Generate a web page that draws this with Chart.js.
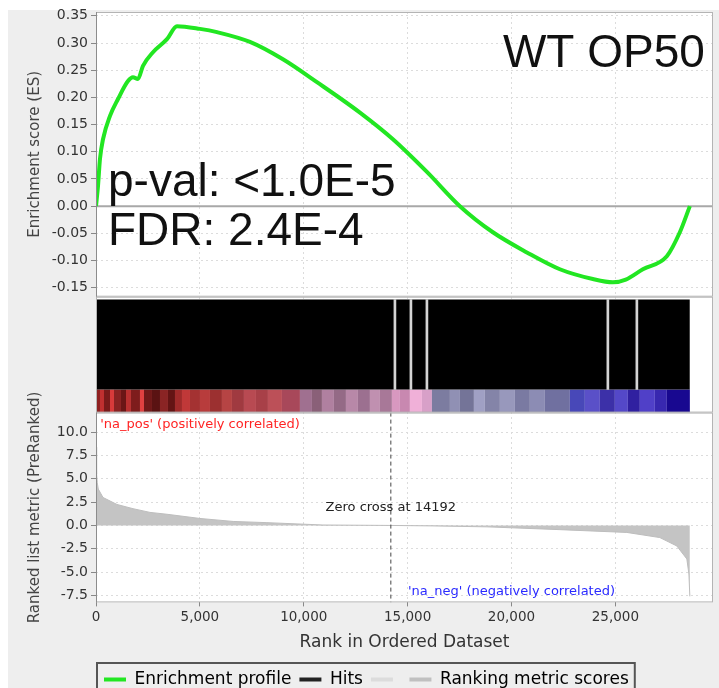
<!DOCTYPE html>
<html>
<head>
<meta charset="utf-8">
<script src="https://cdn.jsdelivr.net/npm/chart.js@4/dist/chart.umd.min.js"></script>
<style>
  html, body { margin: 0; padding: 0; background: #ffffff; overflow: hidden; }
  canvas { display: block; }
</style>
</head>
<body>
<canvas id="c" width="719" height="698"></canvas>
<script>
// ---------------- data ----------------
const panelTitle = 'WT OP50';
const pValText = 'p-val: <1.0E-5';
const fdrText = 'FDR: 2.4E-4';
const geneCount = 28586;
const zeroCrossRank = 14192;

// Running enrichment score (rank, ES)
const esRanks  = [0, 96, 192, 337, 674, 1059, 1540, 1780, 2021, 2262, 2743, 3417, 3898, 5005, 5823, 7411, 9000, 10635, 12705, 14293, 15929, 17517, 19105, 20741, 22329, 23917, 24880, 25500, 26324, 27478, 28104, 28586];
const esScores = [0, 0.037, 0.087, 0.123, 0.166, 0.197, 0.230, 0.237, 0.234, 0.258, 0.283, 0.307, 0.331, 0.326, 0.320, 0.302, 0.270, 0.228, 0.172, 0.123, 0.063, 0.000, -0.048, -0.085, -0.116, -0.134, -0.140, -0.135, -0.116, -0.092, -0.048, 0.000];

// Ranked list metric (rank, score)
const metricRanks  = [0, 30, 60, 110, 337, 1010, 1780, 2600, 3417, 5005, 6600, 8229, 10924, 14192, 16218, 18816, 22329, 25553, 27141, 27959, 28441, 28540, 28586];
const metricScores = [8.4, 5.5, 4.6, 3.9, 3.0, 2.25, 1.8, 1.4, 1.2, 0.75, 0.43, 0.3, 0.05, 0.0, -0.05, -0.15, -0.45, -0.75, -1.3, -2.2, -3.6, -5.2, -7.6];

// Ranks where the hit band shows gaps (light lines in the black band)
const hitGapRanks = [14389, 15159, 15929, 24639, 26035];

// Heat-map band edges (ranks)
const heatEdges = [0, 192, 385, 674, 866, 1203, 1444, 1684, 2117, 2310, 2695, 3080, 3465, 3802, 4139, 4524, 5005, 5486, 6063, 6545, 7122, 7700, 8277, 8951, 9817, 10395, 10876, 11453, 12031, 12608, 13186, 13667, 14244, 14629, 15110, 15688, 16170, 17036, 17517, 18191, 18720, 19442, 20164, 20885, 21607, 22810, 23532, 24254, 24976, 25602, 26179, 26901, 27478, 28586];

// Tick values
const xTicks = [0, 5000, 10000, 15000, 20000, 25000];
const esTicks = [-0.15, -0.10, -0.05, 0.00, 0.05, 0.10, 0.15, 0.20, 0.25, 0.30, 0.35];
const metricTicks = [-7.5, -5.0, -2.5, 0.0, 2.5, 5.0, 7.5, 10.0];

// ---------------- styles ----------------
const heatPalette = ['#8e2020','#c03030','#7a1a1a','#d83a3a','#8a2222','#6a1616','#b83030','#7e1c1c','#e04040','#701818','#5a1212','#8a2424','#641414','#a02a2a','#c03838','#a43232','#b83c3c','#9c3030','#b64444','#a03a40','#b84a52','#a84048','#bc5058','#a8485a','#a07090','#8a6078','#b080a0','#946a86','#b888a8','#9c7090','#c090b0','#a87898','#d898c0','#c888b0','#f0b0d8','#d8a0c8','#7c7ca0','#9090b4','#747498','#a0a0c4','#8484a8','#9898bc','#7a7aa2','#8c8cb4','#7070a0','#4848b8','#5a50c8','#3c30a8','#5448c8','#3020a0','#5040c8','#3828b0','#180890'];
const GREEN = '#22e622';
const X_MAX = 29700;
const ES_MIN = -0.1665, ES_MAX = 0.357;
const RANK_MIN = -8.25, RANK_MAX = 12.1;
const HIT_LOW = 0.2, HIT_HIGH = 0.975, HEAT_MID = 0.1;

Chart.defaults.font.family = '"DejaVu Sans", Verdana, sans-serif';
Chart.defaults.color = '#333';

const pts = (xs, ys) => xs.map((x, i) => ({x: x, y: ys[i]}));

const bgPlugin = {
  id: 'bg',
  beforeDraw(chart) {
    const {ctx, chartArea: a} = chart;
    ctx.save();
    ctx.fillStyle = '#ffffff';
    ctx.fillRect(0, 0, chart.width, chart.height);
    ctx.fillStyle = '#eeeeee';
    ctx.fillRect(8, 10, chart.width - 8, chart.height - 10);
    ctx.fillStyle = '#ffffff';
    ctx.fillRect(a.left, a.top, a.right - a.left, a.bottom - a.top);
    ctx.restore();
  }
};

const framePlugin = {
  id: 'frames',
  afterDatasetsDraw(chart) {
    const {ctx, chartArea: a, scales} = chart;
    ctx.save();
    ctx.lineWidth = 1;
    ctx.strokeStyle = '#b4b4b4';
    [scales.yES, scales.yHits, scales.yRank].forEach(s => {
      ctx.strokeRect(a.left + 0.5, s.top + 0.5, a.right - a.left - 1, s.bottom - s.top - 1);
    });
    ctx.strokeStyle = '#8c8c8c';
    ctx.beginPath();
    ctx.moveTo(a.left + 0.5, scales.yES.top); ctx.lineTo(a.left + 0.5, scales.yES.bottom);
    ctx.moveTo(a.left + 0.5, scales.yRank.top); ctx.lineTo(a.left + 0.5, scales.yRank.bottom);
    ctx.stroke();
    ctx.restore();
  }
};

const textPlugin = {
  id: 'texts',
  afterDatasetsDraw(chart) {
    const {ctx, scales: {x, yES, yRank}} = chart;
    ctx.save();
    ctx.fillStyle = '#111';
    ctx.font = '46px "Liberation Sans", Arial, sans-serif';
    ctx.textBaseline = 'alphabetic';
    ctx.textAlign = 'right';
    ctx.fillText(panelTitle, x.getPixelForValue(29307), yES.getPixelForValue(0.256));
    ctx.textAlign = 'left';
    ctx.fillText(pValText, x.getPixelForValue(577), yES.getPixelForValue(0.0184));
    ctx.fillText(fdrText, x.getPixelForValue(577), yES.getPixelForValue(-0.072));

    ctx.font = '13px "DejaVu Sans", sans-serif';
    ctx.textBaseline = 'middle';
    ctx.fillStyle = '#ff2424';
    ctx.fillText("'na_pos' (positively correlated)", x.getPixelForValue(200), yRank.getPixelForValue(10.8));
    ctx.fillStyle = '#2a2aff';
    ctx.fillText("'na_neg' (negatively correlated)", x.getPixelForValue(15014), yRank.getPixelForValue(-7.07));
    ctx.fillStyle = '#222';
    ctx.textAlign = 'center';
    ctx.fillText('Zero cross at ' + zeroCrossRank, x.getPixelForValue(zeroCrossRank), yRank.getPixelForValue(1.93));
    ctx.restore();
  },
  afterDraw(chart) {
    const lg = chart.legend;
    if (!lg || !lg.legendHitBoxes || !lg.legendHitBoxes.length) return;
    const hb = lg.legendHitBoxes;
    const last = hb[hb.length - 1];
    const l = hb[0].left - 7, r = last.left + last.width + 6, t = hb[0].top - 8;
    const ctx = chart.ctx;
    ctx.save();
    ctx.strokeStyle = '#555';
    ctx.lineWidth = 2;
    ctx.strokeRect(l, t, r - l, 40);
    ctx.restore();
  }
};

const fixedTicks = arr => scale => { scale.ticks = arr.map(v => ({value: v})); };
const gridY = {color: '#dcdcdc', tickLength: 5, tickColor: '#888', drawTicks: true};

new Chart(document.getElementById('c'), {
  type: 'line',
  data: {
    datasets: [
      { label: 'Enrichment profile', yAxisID: 'yES', data: pts(esRanks, esScores),
        borderColor: GREEN, borderWidth: 4, pointRadius: 0, cubicInterpolationMode: 'monotone', fill: false },
      { label: 'es-zero', yAxisID: 'yES', data: [{x: 0, y: 0}, {x: X_MAX, y: 0}],
        borderColor: '#a8a8a8', borderWidth: 2, pointRadius: 0, fill: false },
      { label: 'zero-cross', yAxisID: 'yRank', data: [{x: zeroCrossRank, y: RANK_MAX}, {x: zeroCrossRank, y: RANK_MIN}],
        borderColor: '#444', borderWidth: 1, borderDash: [4, 3], pointRadius: 0, fill: false },
      { label: 'Ranking metric scores', yAxisID: 'yRank', data: pts(metricRanks, metricScores),
        borderColor: '#bdbdbd', borderWidth: 1, backgroundColor: '#c4c4c4', pointRadius: 0, fill: 'origin' },
      { type: 'bar', label: 'hit-gaps', yAxisID: 'yHits', data: hitGapRanks.map(r => ({x: r, y: [HIT_LOW, HIT_HIGH]})),
        backgroundColor: '#d4d4d4', borderWidth: 0, barThickness: 2, grouped: false },
      { label: 'Hits', yAxisID: 'yHits', data: [{x: 0, y: HIT_HIGH}, {x: geneCount, y: HIT_HIGH}],
        borderWidth: 0, borderColor: '#000', backgroundColor: '#000', pointRadius: 0, fill: {value: HIT_LOW} },
      { label: 'heat', yAxisID: 'yHits', data: heatEdges.map(r => ({x: r, y: HEAT_MID})),
        borderWidth: 23, borderCapStyle: 'butt', borderColor: heatPalette[0], pointRadius: 0, fill: false,
        segment: { borderColor: c => heatPalette[c.p0DataIndex] } }
    ]
  },
  options: {
    responsive: false,
    animation: false,
    devicePixelRatio: 1,
    layout: { padding: { top: 12, right: 6, left: 0, bottom: 0 } },
    plugins: {
      tooltip: { enabled: false },
      legend: {
        position: 'bottom', align: 'start', fullSize: false,
        labels: {
          boxWidth: 22, boxHeight: 4, padding: 8, color: '#333', font: { size: 17 },
          generateLabels: () => [
            { text: 'Enrichment profile', fillStyle: GREEN, strokeStyle: GREEN, lineWidth: 0, hidden: false },
            { text: 'Hits', fillStyle: '#222', strokeStyle: '#222', lineWidth: 0, hidden: false },
            { text: '', fillStyle: '#dcdcdc', strokeStyle: '#dcdcdc', lineWidth: 0, hidden: false },
            { text: 'Ranking metric scores', fillStyle: '#c0c0c0', strokeStyle: '#c0c0c0', lineWidth: 0, hidden: false }
          ]
        }
      }
    },
    scales: {
      x: {
        type: 'linear', position: 'bottom', min: 0, max: X_MAX, offset: false,
        afterBuildTicks: fixedTicks(xTicks),
        ticks: { font: { size: 13.5 }, color: '#333', padding: 3, maxRotation: 0, autoSkip: false,
                 callback: v => v.toLocaleString('en-US') },
        grid: { color: '#dcdcdc', tickLength: 4, tickColor: '#888', offset: false },
        border: { display: false, dash: [2, 3] },
        title: { display: true, text: 'Rank in Ordered Dataset', font: { size: 17 }, color: '#333',
                 padding: { top: 4, bottom: 10 } }
      },
      yES: {
        type: 'linear', position: 'left', stack: 'gsea', stackWeight: 285, weight: 3,
        min: ES_MIN, max: ES_MAX,
        afterBuildTicks: fixedTicks(esTicks),
        afterFit: s => { s.width = 96; },
        ticks: { font: { size: 14 }, color: '#333', padding: 3, autoSkip: false, callback: v => v.toFixed(2) },
        grid: gridY,
        border: { display: false, dash: [2, 3] },
        title: { display: true, text: 'Enrichment score (ES)', font: { size: 15 }, color: '#444',
                 padding: { top: 26, bottom: 0 } }
      },
      yHits: {
        type: 'linear', position: 'left', stack: 'gsea', stackWeight: 116, weight: 2,
        min: 0, max: 1,
        afterFit: s => { s.width = 96; },
        ticks: { display: false },
        grid: { display: false },
        border: { display: false }
      },
      yRank: {
        type: 'linear', position: 'left', stack: 'gsea', stackWeight: 190, weight: 1,
        min: RANK_MIN, max: RANK_MAX,
        afterBuildTicks: fixedTicks(metricTicks),
        afterFit: s => { s.width = 96; },
        ticks: { font: { size: 14 }, color: '#333', padding: 3, autoSkip: false, callback: v => v.toFixed(1) },
        grid: gridY,
        border: { display: false, dash: [2, 3] },
        title: { display: true, text: 'Ranked list metric (PreRanked)', font: { size: 15 }, color: '#444',
                 padding: { top: 26, bottom: 0 } }
      }
    }
  },
  plugins: [bgPlugin, framePlugin, textPlugin]
});
</script>
</body>
</html>
